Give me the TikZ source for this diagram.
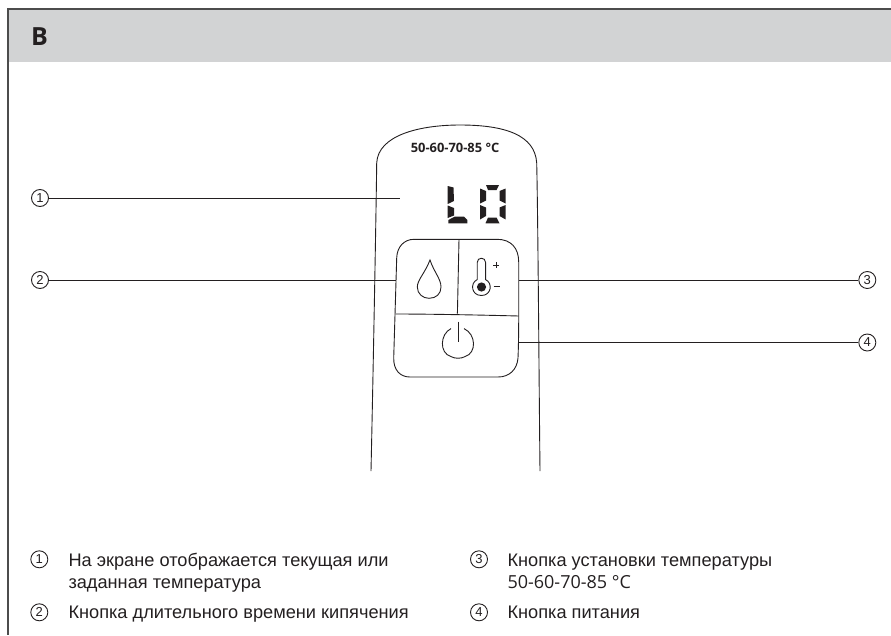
\documentclass[tikz,border=0pt]{standalone}
\usepackage{fontspec}
\setmainfont{Liberation Sans}
\newfontfamily\headfont{Open Sans}
\definecolor{hdr}{RGB}{210,211,212}
\definecolor{ink}{RGB}{35,31,32}
\tikzset{
  px/.style={x=1pt,y=-1pt},
  ln/.style={draw=ink,line width=0.9pt},
  lead/.style={draw=ink,line width=1pt},
  callout/.style={circle,draw=ink,line width=0.9pt,inner sep=0pt,minimum size=17pt,text=ink,font=\fontsize{13}{13}\selectfont},
  legtext/.style={anchor=base west,inner sep=0pt,text=ink,font=\fontsize{18.2}{18}\selectfont},
  legalt/.style={anchor=base west,inner sep=0pt,text=ink,font=\headfont\fontsize{18}{18}\selectfont},
  seg/.style={fill=ink},
}
\begin{document}
\begin{tikzpicture}[px]
\useasboundingbox (0,0) rectangle (891,635);
% header and frame
\fill[hdr] (8,9) rectangle (891,62);
\draw[black!70,line width=1.2pt] (891,9) -- (8,9) -- (8,635);
\node[anchor=base west,inner sep=0pt,text=ink,font=\headfont\bfseries\fontsize{25}{25}\selectfont] (title) at (31,45.7) {B};
% device outline
\draw[ln] (371,471) .. controls (373,380) and (376,220) .. (376.7,163)
  .. controls (378,135) and (420,125) .. (460,125)
  .. controls (505,125) and (535,135) .. (536.7,163)
  .. controls (538,220) and (539,380) .. (540,471);
\node[inner sep=0pt,text=ink,font=\headfont\bfseries\fontsize{12.9}{13}\selectfont] (range) at (455,148.3) {50-60-70-85 °C};
% LO display
\fill[seg] (447.7,186) -- (453.5,187.5) -- (454,201) -- (447.7,204) -- cycle;
\fill[seg] (447.7,205.5) -- (454,208) -- (454,215.5) -- (447.7,218) -- cycle;
\fill[seg] (448.3,223.3) -- (448.3,220) -- (455,216.5) -- (464,216.5) -- (467.3,220) -- (467.3,223.3) -- cycle;
\fill[seg] (486,185) -- (499,185) -- (496.5,190) -- (488,190) -- cycle;
\fill[seg] (480,188.5) -- (486,191) -- (486,200.5) -- (480,203.5) -- cycle;
\fill[seg] (499.5,191) -- (505.7,188.5) -- (505.7,203.5) -- (499.5,200.5) -- cycle;
\fill[seg] (480,205) -- (486,207.5) -- (486,216) -- (480,219.5) -- cycle;
\fill[seg] (499.5,207.5) -- (505.7,205) -- (505.7,219.5) -- (499.5,216) -- cycle;
\fill[seg] (488,217.5) -- (496.5,217.5) -- (499.5,223.3) -- (485.5,223.3) -- cycle;
% button panel
\draw[ln] (414,239.3) -- (497,239.3) .. controls (511,239.3) and (518.7,248) .. (518.7,262)
  .. controls (518.7,300) and (519,335) .. (518,358)
  .. controls (517,370) and (509,377) .. (498,377)
  -- (410,377) .. controls (400,377) and (393.5,370) .. (393.7,358)
  -- (396.7,258) .. controls (397,247) and (404,239.3) .. (414,239.3);
\draw[ln] (395.3,314) .. controls (430,314) and (480,315) .. (518.7,316);
\draw[ln] (459,239.3) -- (457.4,313.7);
% drop
\draw[ln] (430,260) .. controls (425,273) and (417.3,280) .. (417.3,287)
  .. controls (417.3,294) and (423,298.3) .. (429,298.3)
  .. controls (436,298.3) and (441,294) .. (441,287)
  .. controls (441,279) and (434,272) .. (430,260) -- cycle;
% thermometer (y axis points down, so angles run clockwise on the page)
\draw[ln] (477.2,279.6) -- (477.2,262.5)
  .. controls (477.2,256.8) and (485.6,256.8) .. (485.6,262.5) -- (485.6,279.6)
  .. controls (493,283) and (491.5,295.5) .. (481.4,295.5)
  .. controls (471.3,295.5) and (469.8,283) .. (477.2,279.6) -- cycle;
\fill[ink] (481.5,287) circle[radius=4.6];
\draw[ink,line width=0.7pt] (493.2,265) -- (498.8,265) (496,262.2) -- (496,267.8);
\draw[ink,line width=0.8pt] (493.5,286.7) -- (499.7,286.7);
% power
\draw[ln] (451,328.6) .. controls (440,334) and (439,353) .. (451,356.6)
  .. controls (455,358.8) and (461,358.8) .. (465,356.6)
  .. controls (477,353) and (476,334) .. (464,328.6);
\draw[ln] (458,321.7) -- (458,341.5);
% anchors on the device
\coordinate (disp) at (400,198);
\coordinate (pl) at (396,280);
\coordinate (pr) at (518.7,280);
\coordinate (pb) at (518.5,342.5);
% callouts
\node[callout] (c1) at (40,198) {1};
\node[callout] (c2) at (40,280) {2};
\node[callout] (c3) at (867.3,280) {3};
\node[callout] (c4) at (867.3,342.5) {4};
\draw[lead] (c1) -- (disp);
\draw[lead] (c2) -- (pl);
\draw[lead] (c3) -- (pr);
\draw[lead] (c4) -- (pb);
% legend
\node[callout] (l1) at (39.3,559.3) {1};
\node[callout] (l2) at (39.3,612.3) {2};
\node[callout] (l3) at (479,559.3) {3};
\node[callout] (l4) at (479,612.3) {4};
\node[legtext] (t1a) at (68.3,566) {На экране отображается текущая или};
\node[legtext] (t1b) at (68.3,588.3) {заданная температура};
\node[legtext] (t2) at (68.3,618.3) {Кнопка длительного времени кипячения};
\node[legtext] (t3a) at (507.3,566) {Кнопка установки температуры};
\node[legalt] (t3b) at (507.3,588.3) {50-60-70-85 °C};
\node[legtext] (t4) at (507.3,618.3) {Кнопка питания};
\end{tikzpicture}
\end{document}
